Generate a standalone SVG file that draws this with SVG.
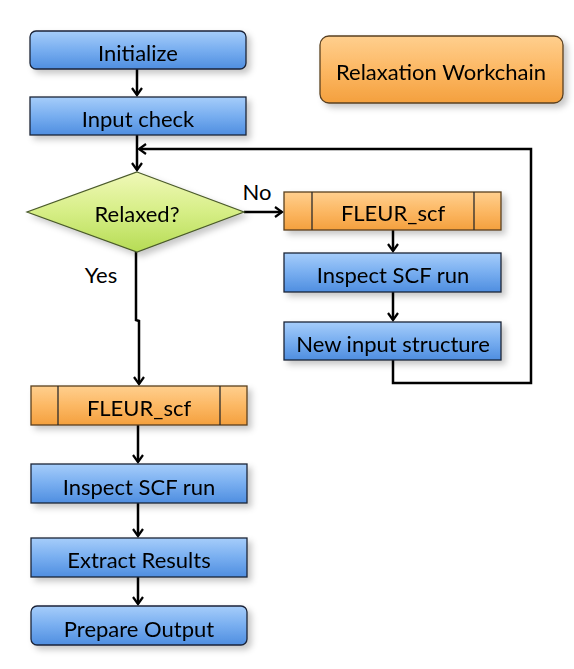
<svg xmlns="http://www.w3.org/2000/svg" width="574" height="669" viewBox="0 0 574 669">
<defs>
<style>
text{font-family:Lato,"Liberation Sans",sans-serif;font-size:22px;fill:#000;text-anchor:middle;dominant-baseline:central}
.blue{fill:url(#gb);stroke:#1a2438;stroke-width:1.3}
.orange{fill:url(#go);stroke:#5a4020;stroke-width:1.3}
.sep{stroke:#2a2a2a;stroke-width:1.3}
.con{fill:none;stroke:#000;stroke-width:2.5}
.node{filter:url(#sh)}
</style>
<linearGradient id="gb" x1="0" y1="0" x2="0" y2="1">
<stop offset="0" stop-color="#a6cdfa"/>
<stop offset="0.5" stop-color="#78aef0"/>
<stop offset="1" stop-color="#4f8ee0"/>
</linearGradient>
<linearGradient id="go" x1="0" y1="0" x2="0" y2="1">
<stop offset="0" stop-color="#ffcf8e"/>
<stop offset="0.5" stop-color="#fcb864"/>
<stop offset="1" stop-color="#f4a03e"/>
</linearGradient>
<linearGradient id="gg" x1="0" y1="0" x2="0" y2="1">
<stop offset="0" stop-color="#f0f8b8"/>
<stop offset="0.5" stop-color="#d6ee86"/>
<stop offset="1" stop-color="#b6dc55"/>
</linearGradient>
<filter id="sh" x="-10%" y="-20%" width="125%" height="160%">
<feDropShadow dx="4" dy="4" stdDeviation="3" flood-color="#000" flood-opacity="0.22"/>
</filter>
<marker id="arr" markerWidth="12" markerHeight="12" refX="10" refY="6" orient="auto" markerUnits="userSpaceOnUse">
<path d="M3,1 L10,6 L3,11" fill="none" stroke="#000" stroke-width="2.2"/>
</marker>
</defs>

<g id="connectors">
<path class="con" d="M137,69 V95" marker-end="url(#arr)"/>
<path class="con" d="M137,135 V170" marker-end="url(#arr)"/>
<path class="con" d="M393,360 V383 H531 V149 H139" marker-end="url(#arr)"/>
<path class="con" d="M244,212 H282" marker-end="url(#arr)"/>
<path class="con" d="M393,230 V251" marker-end="url(#arr)"/>
<path class="con" d="M393,292 V320" marker-end="url(#arr)"/>
<path class="con" d="M136,252 V320 L139,321 V384" marker-end="url(#arr)"/>
<path class="con" d="M138,425 V462" marker-end="url(#arr)"/>
<path class="con" d="M138,503 V536" marker-end="url(#arr)"/>
<path class="con" d="M138,577 V604" marker-end="url(#arr)"/>
<text x="257" y="191">No</text>
<text x="101" y="274">Yes</text>
</g>

<g id="initialize" class="node">
<rect class="blue" x="30" y="31" width="216" height="38" rx="6"/>
<text x="138" y="52">Initialize</text>
</g>
<g id="input-check" class="node">
<rect class="blue" x="30" y="97" width="216" height="38"/>
<text x="138" y="118">Input check</text>
</g>
<g id="relaxation-workchain" class="node">
<rect class="orange" x="320" y="36" width="243" height="67" rx="9"/>
<text x="441" y="71">Relaxation Workchain</text>
</g>
<g id="relaxed" class="node">
<polygon points="137,172 244,212 137,252 27,212" fill="url(#gg)" stroke="#4a5a2a" stroke-width="1.2"/>
<text x="137" y="213">Relaxed?</text>
</g>
<g id="fleur-scf-loop" class="node">
<rect class="orange" x="284" y="192" width="217" height="38"/>
<line class="sep" x1="312" y1="192" x2="312" y2="230"/>
<line class="sep" x1="474" y1="192" x2="474" y2="230"/>
<text x="393" y="212">FLEUR_scf</text>
</g>
<g id="inspect-scf-loop" class="node">
<rect class="blue" x="284" y="253" width="217" height="39"/>
<text x="393" y="274">Inspect SCF run</text>
</g>
<g id="new-input-structure" class="node">
<rect class="blue" x="284" y="322" width="217" height="38"/>
<text x="393" y="343">New input structure</text>
</g>
<g id="fleur-scf" class="node">
<rect class="orange" x="31" y="386" width="216" height="39"/>
<line class="sep" x1="58" y1="386" x2="58" y2="425"/>
<line class="sep" x1="220" y1="386" x2="220" y2="425"/>
<text x="139" y="407">FLEUR_scf</text>
</g>
<g id="inspect-scf" class="node">
<rect class="blue" x="31" y="464" width="216" height="39"/>
<text x="139" y="486">Inspect SCF run</text>
</g>
<g id="extract-results" class="node">
<rect class="blue" x="31" y="538" width="216" height="39"/>
<text x="139" y="559">Extract Results</text>
</g>
<g id="prepare-output" class="node">
<rect class="blue" x="31" y="606" width="216" height="39" rx="6"/>
<text x="139" y="628">Prepare Output</text>
</g>
</svg>
